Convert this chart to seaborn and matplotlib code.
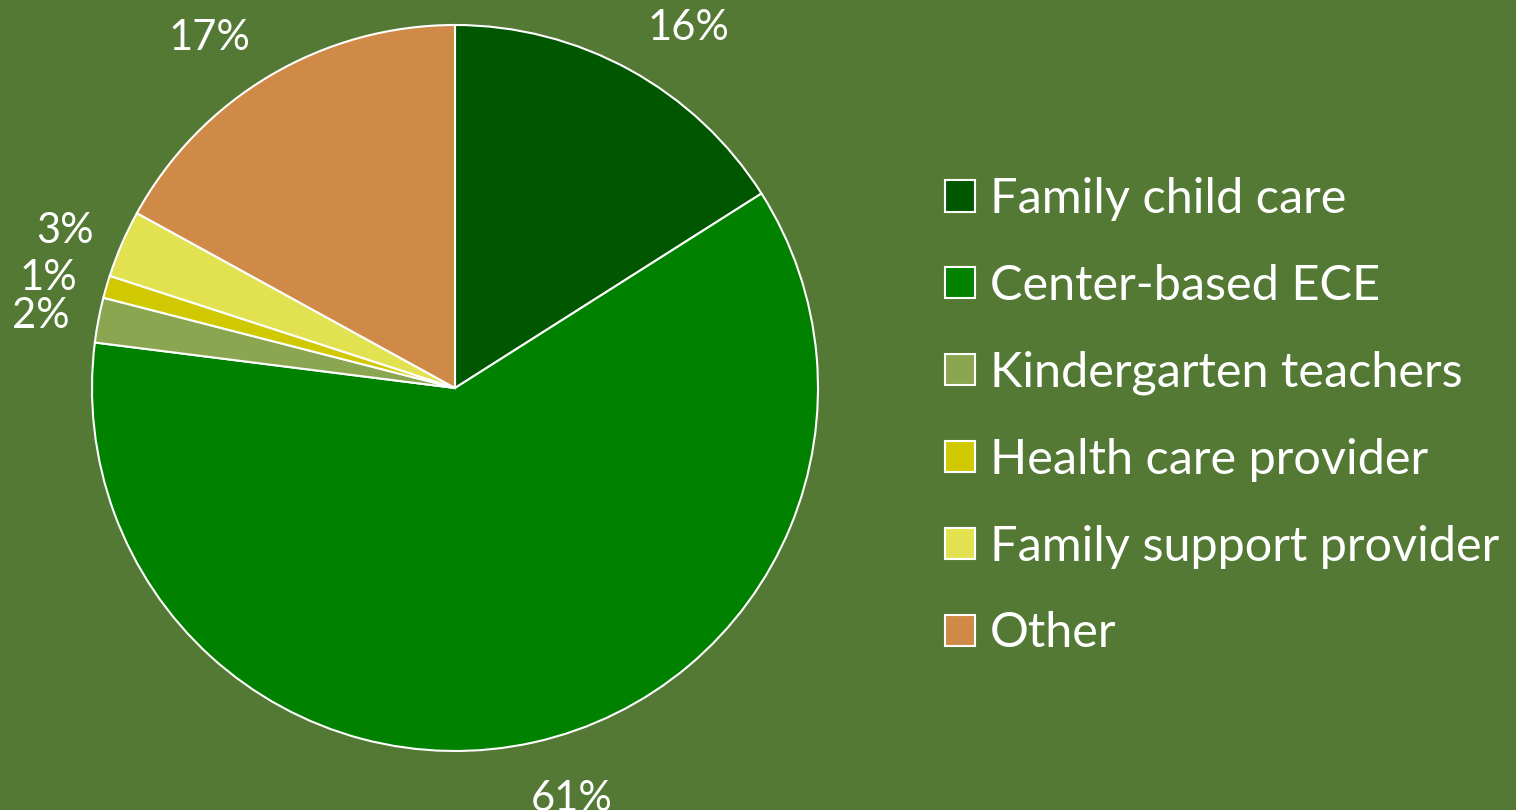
import matplotlib
matplotlib.use('Agg')
import matplotlib.pyplot as plt
import matplotlib.transforms as mtransforms
import seaborn as sns

CATEGORIES = ['Family child care', 'Center-based ECE', 'Kindergarten teachers',
              'Health care provider', 'Family support provider', 'Other']
SHARES = [16, 61, 2, 1, 3, 17]
COLORS = ['#005700', '#008200', '#8BA650', '#D0C800', '#E2E250', '#D08A48']
# small nudges (px, right / down) that mimic the "best fit" label placement
LABEL_NUDGE = [(29, 12), (24, -3), (3, 8), (1, 8), (0, 12), (-29, 16)]

BG = '#537934'

sns.set_theme(style='white', rc={'figure.facecolor': BG, 'axes.facecolor': BG})
plt.rcParams['font.family'] = ['Lato', 'DejaVu Sans']

fig = plt.figure(figsize=(15.16, 8.1), dpi=100)
# pie centred at (455, 388) px with radius ~363 px
r_px, pad = 363, 380
ax = fig.add_axes([(455 - pad) / 1516, (810 - 388 - pad) / 810, 2 * pad / 1516, 2 * pad / 810])

palette = sns.color_palette(COLORS)
wedges, texts, autotexts = ax.pie(
    SHARES, colors=palette, startangle=90, counterclock=False,
    autopct=lambda p: '{:.0f}%'.format(p), pctdistance=1.17,
    wedgeprops={'edgecolor': 'white', 'linewidth': 1.5},
    textprops={'color': 'white', 'fontsize': 30})

for t, (dx, dy) in zip(autotexts, LABEL_NUDGE):
    t.set_transform(ax.transData + mtransforms.ScaledTranslation(dx / 100, -dy / 100, fig.dpi_scale_trans))

lim = pad / r_px
ax.set_xlim(-lim, lim)
ax.set_ylim(-lim, lim)
ax.set_aspect('equal')
ax.axis('off')

leg = fig.legend(wedges, CATEGORIES, loc='upper left',
                 bbox_to_anchor=(945 / 1516, 1 - 177 / 810),
                 frameon=False, fontsize=35, labelcolor='white',
                 handlelength=0.62, handleheight=0.62, handletextpad=0.31,
                 labelspacing=0.88, borderpad=0, borderaxespad=0)

fig.savefig('out.png', dpi=100, facecolor=BG)
